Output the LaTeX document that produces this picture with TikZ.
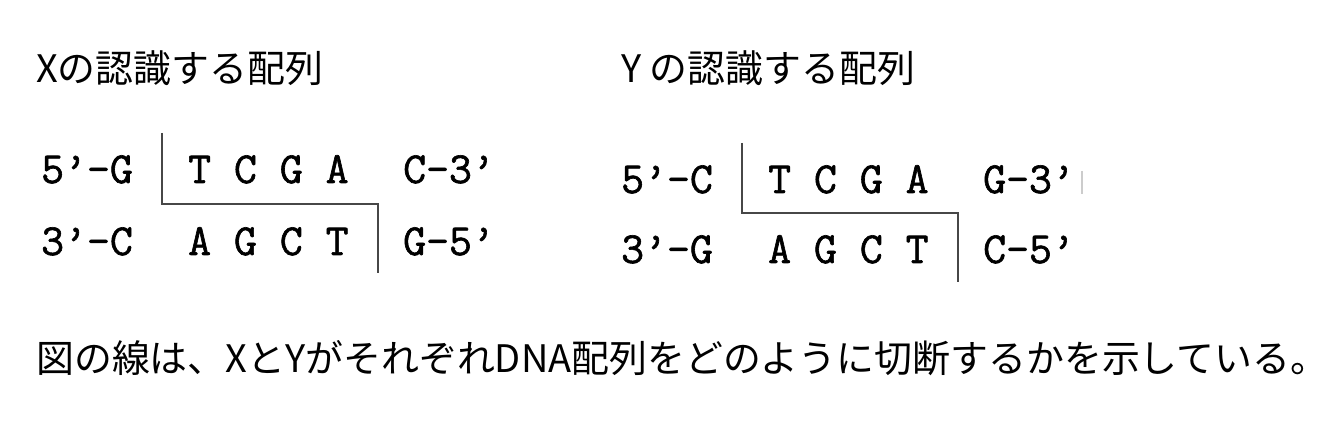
\documentclass[tikz,border=0pt]{standalone}
\usepackage{fontspec}
\newfontfamily\jpfont{Noto Sans CJK JP}
\newfontfamily\seqfont[FakeBold=1.4]{Latin Modern Mono}
\begin{document}
\begin{tikzpicture}[x=1pt,y=1pt,
  jptext/.style={anchor=base west,inner sep=0pt,font=\jpfont\fontsize{37.9}{45}\selectfont},
  seq/.style={anchor=base west,inner sep=0pt,font=\seqfont\fontsize{44.5}{53}\selectfont},
  cutline/.style={draw=black!72,line width=1.8pt}]
\useasboundingbox (0,0) rectangle (1336,430);
% titles
\node[jptext] (tx) at (36,347) {Xの認識する配列};
\node[jptext] (ty) at (621,347) {Y の認識する配列};
% X block
\node[seq] (x1a) at (41,247) {5’-G};
\node[seq] (x1b) at (188,247) {T C G A};
\node[seq] (x1c) at (403,247) {C-3’};
\node[seq] (x2a) at (41,175) {3’-C};
\node[seq] (x2b) at (188,175) {A G C T};
\node[seq] (x2c) at (403,175) {G-5’};
\coordinate (xs) at (162,297);
\coordinate (xm1) at (162,226);
\coordinate (xm2) at (378,226);
\coordinate (xe) at (378,157);
\draw[cutline] (xs) -- (xm1) -- (xm2) -- (xe);
% Y block
\node[seq] (y1a) at (621,237) {5’-C};
\node[seq] (y1b) at (768,237) {T C G A};
\node[seq] (y1c) at (983,237) {G-3’};
\node[seq] (y2a) at (621,167) {3’-G};
\node[seq] (y2b) at (768,167) {A G C T};
\node[seq] (y2c) at (983,167) {C-5’};
\coordinate (ys) at (742,287);
\coordinate (ym1) at (742,217);
\coordinate (ym2) at (958,217);
\coordinate (ye) at (958,148);
\draw[cutline] (ys) -- (ym1) -- (ym2) -- (ye);
% faint mark
\draw[black!20,line width=1.5pt] (1082,259) -- (1082,236);
% caption
\node[jptext] (cap) at (36,57) {図の線は、XとYがそれぞれDNA配列をどのように切断するかを示している。};
\end{tikzpicture}
\end{document}
